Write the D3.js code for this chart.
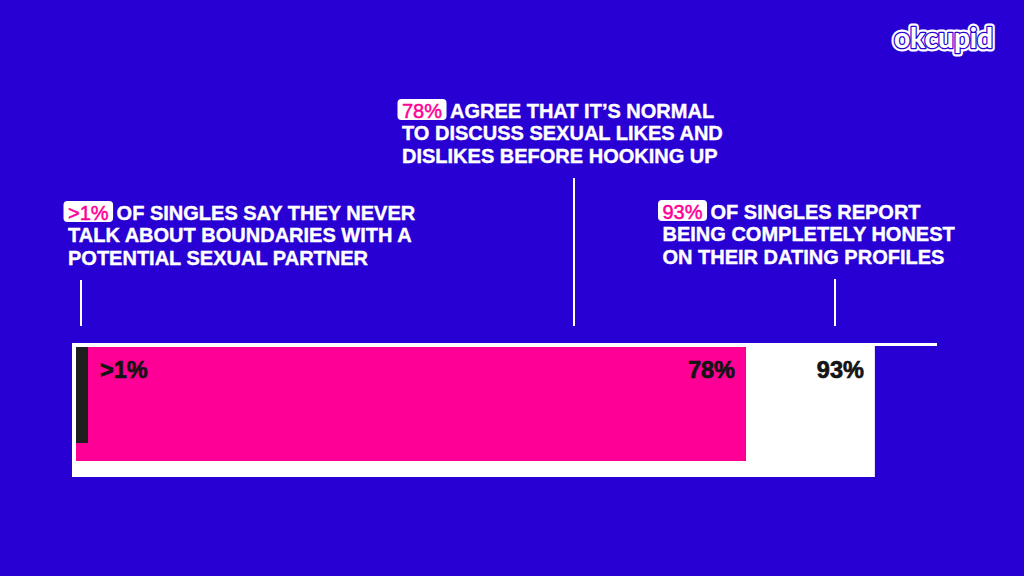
<!DOCTYPE html>
<html>
<head>
<meta charset="utf-8">
<script src="https://cdn.jsdelivr.net/npm/d3@7"></script>
<style>
  html, body { margin: 0; padding: 0; background: #2900d3; }
  svg { display: block; }
</style>
</head>
<body>
<div id="chart"></div>
<script>
// values (percent of singles)
var barKeys = ["never_talk_boundaries", "normal_to_discuss", "honest_profiles"];
var barValues = [1.4, 78, 93];
var barLabels = [">1%", "78%", "93%"];

var highlightLabels = [">1%", "78%", "93%"];
var annotationLines = [
  ["OF SINGLES SAY THEY NEVER", "TALK ABOUT BOUNDARIES WITH A", "POTENTIAL SEXUAL PARTNER"],
  ["AGREE THAT IT\u2019S NORMAL", "TO DISCUSS SEXUAL LIKES AND", "DISLIKES BEFORE HOOKING UP"],
  ["OF SINGLES REPORT", "BEING COMPLETELY HONEST", "ON THEIR DATING PROFILES"]
];

var logoText = "okcupid";

function drawChart(selector) {
  var width = 1024,
      height = 576,
      bg = "#2900d3",
      pink = "#ff0096",
      font = "'Liberation Sans', Arial, sans-serif";

  var x = d3.scaleLinear([0, 100], [76, 935]);

  // bars are layered: widest in back, shorter ones sitting on top
  var barTop = 347;
  var barBottom = d3.scaleOrdinal(barKeys, [443, 461, 477]);
  var barFill = d3.scaleOrdinal(barKeys, ["#1e1e1e", pink, "#ffffff"]);

  var svg = d3.select(selector).append("svg")
      .attr("width", width)
      .attr("height", height);

  svg.append("rect")
      .attr("width", width)
      .attr("height", height)
      .attr("fill", bg);

  var bars = d3.zip(barKeys, barValues, barLabels)
    .map(function(d) { return {key: d[0], value: d[1], label: d[2]}; });
  var drawOrder = bars.slice().sort(function(a, b) { return b.value - a.value; });
  var maxValue = d3.max(barValues);

  svg.append("g").selectAll("rect")
    .data(drawOrder)
    .join("rect")
      .attr("x", function(d) { return d.value === maxValue ? x(0) - 4 : x(0); })
      .attr("y", function(d) { return d.value === maxValue ? barTop - 3 : barTop; })
      .attr("width", function(d) {
        return d.value === maxValue ? x(d.value) - x(0) + 4 : x(d.value) - x(0);
      })
      .attr("height", function(d) {
        return d.value === maxValue ? barBottom(d.key) - barTop + 3 : barBottom(d.key) - barTop;
      })
      .attr("fill", function(d) { return barFill(d.key); });

  // 100% base line along the top
  svg.append("line")
      .attr("x1", x(0) - 4)
      .attr("x2", x(100) + 2)
      .attr("y1", barTop - 2.5)
      .attr("y2", barTop - 2.5)
      .attr("stroke", "#ffffff")
      .attr("stroke-width", 3);

  // value labels inside the bars
  svg.append("g").selectAll("text")
    .data(bars)
    .join("text")
      .attr("x", function(d, i) { return i === 0 ? x(d.value) + 12 : x(d.value) - 11; })
      .attr("y", 378)
      .attr("text-anchor", function(d, i) { return i === 0 ? "start" : "end"; })
      .attr("font-family", font)
      .attr("font-weight", "bold")
      .attr("font-size", 23.5)
      .attr("fill", "#141414")
      .attr("stroke", "#141414")
      .attr("stroke-width", 0.7)
      .text(function(d) { return d.label; });

  // annotations with leader lines
  var notes = [
    {x: 68, baseline: 219.5, lineX: 81, lineTop: 280},
    {x: 402, baseline: 117.5, lineX: 574, lineTop: 178},
    {x: 662.5, baseline: 218.5, lineX: 835, lineTop: 279}
  ];
  var lineHeight = 22.8;

  notes.forEach(function(n, i) {
    var g = svg.append("g");

    g.append("line")
        .attr("x1", n.lineX).attr("x2", n.lineX)
        .attr("y1", n.lineTop).attr("y2", 326)
        .attr("stroke", "#ffffff")
        .attr("stroke-width", 2);

    var badge = g.append("rect")
        .attr("rx", 4)
        .attr("fill", "#ffffff");

    var hl = g.append("text")
        .attr("x", n.x)
        .attr("y", n.baseline)
        .attr("font-family", font)
        .attr("font-size", 20)
        .attr("fill", pink)
        .attr("stroke", pink)
        .attr("stroke-width", 0.5)
        .text(highlightLabels[i]);

    var w = hl.node().getComputedTextLength();
    badge.attr("x", n.x - 4.5)
        .attr("y", n.baseline - 18.5)
        .attr("width", w + 9)
        .attr("height", 21);

    g.selectAll("text.line")
      .data(annotationLines[i])
      .join("text")
        .classed("line", true)
        .attr("x", function(d, j) { return j === 0 ? n.x + w + 8 : n.x; })
        .attr("y", function(d, j) { return n.baseline + j * lineHeight; })
        .attr("font-family", font)
        .attr("font-weight", "bold")
        .attr("font-size", 20)
        .attr("fill", "#ffffff")
        .attr("stroke", "#ffffff")
        .attr("stroke-width", 0.4)
        .text(function(d) { return d; });
  });

  // logo, sticker style: white halo, thin blue outline, white letters
  var logo = svg.append("g").attr("transform", "translate(894,48)");
  logo.append("text")
      .attr("font-family", "Lato, 'Open Sans', sans-serif")
      .attr("font-weight", 900)
      .attr("font-size", 29)
      .attr("textLength", 99)
      .attr("lengthAdjust", "spacingAndGlyphs")
      .attr("fill", "#ffffff")
      .attr("stroke", "#ffffff")
      .attr("stroke-width", 7)
      .attr("stroke-linejoin", "round")
      .text(logoText);
  logo.append("text")
      .attr("font-family", "Lato, 'Open Sans', sans-serif")
      .attr("font-weight", 900)
      .attr("font-size", 29)
      .attr("textLength", 99)
      .attr("lengthAdjust", "spacingAndGlyphs")
      .attr("fill", "#ffffff")
      .attr("stroke", bg)
      .attr("stroke-width", 2.6)
      .attr("stroke-linejoin", "round")
      .attr("paint-order", "stroke")
      .text(logoText);
}

drawChart("#chart");
</script>
</body>
</html>
